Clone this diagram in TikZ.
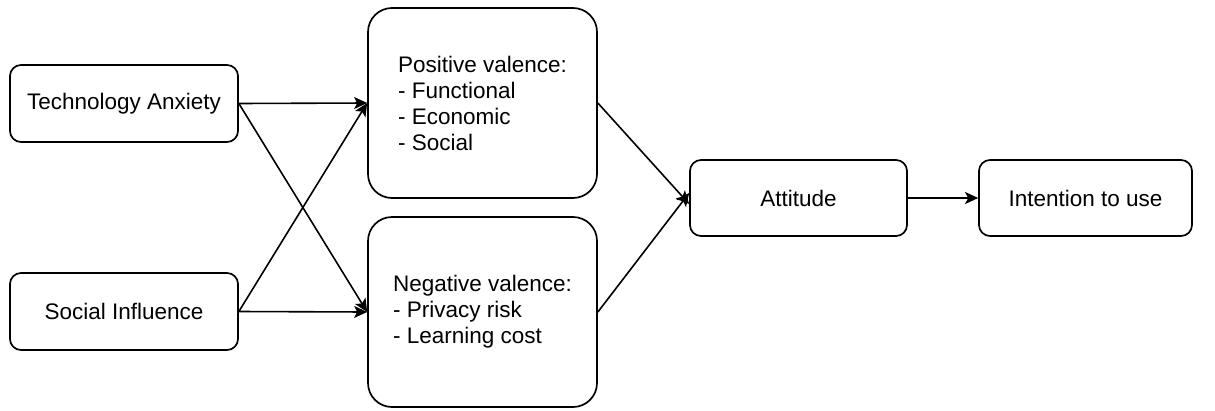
\documentclass[tikz,border=0pt]{standalone}
\usepackage{fontspec}
\setmainfont{Liberation Sans}
\usetikzlibrary{arrows.meta}
\begin{document}
\begin{tikzpicture}[x=1pt,y=-1pt,
  box/.style={draw=black,line width=1.7pt,fill=white,inner sep=0pt,
    font=\fontsize{22.5}{26}\selectfont,align=center},
  smallbox/.style={box,rounded corners=11pt},
  bigbox/.style={box,rounded corners=24pt,align=left,
    minimum width=229pt,minimum height=190pt},
  link/.style={draw=black,line width=1.6pt,
    -{Stealth[length=13pt,width=12pt,inset=3pt]}}]
  \useasboundingbox (0,0) rectangle (1215,410);

  % predictors
  \node[smallbox,minimum width=228pt,minimum height=77pt] (ta) at (124,103.5) {Technology Anxiety};
  \node[smallbox,minimum width=228pt,minimum height=77pt] (si) at (124,311.5) {Social Influence};

  % valence constructs
  \node[bigbox] (pos) at (482.5,103) {Positive valence:\\- Functional\\- Economic\\- Social};
  \node[bigbox] (neg) at (482.5,312) {Negative valence:\\- Privacy risk\\- Learning cost};

  % outcomes
  \node[smallbox,minimum width=217pt,minimum height=76pt] (att) at (798.5,198) {Attitude};
  \node[smallbox,minimum width=213pt,minimum height=76pt] (int) at (1085.5,198) {Intention to use};

  % paths
  \draw[link] (ta.east) -- (pos.west);
  \draw[link] (ta.east) -- (neg.west);
  \draw[link] (si.east) -- (pos.west);
  \draw[link] (si.east) -- (neg.west);
  \draw[link] (pos.east) -- ([yshift=-6pt]att.west);
  \draw[link] (neg.east) -- ([yshift=5pt]att.west);
  \draw[link] (att.east) -- (int.west);
\end{tikzpicture}
\end{document}
